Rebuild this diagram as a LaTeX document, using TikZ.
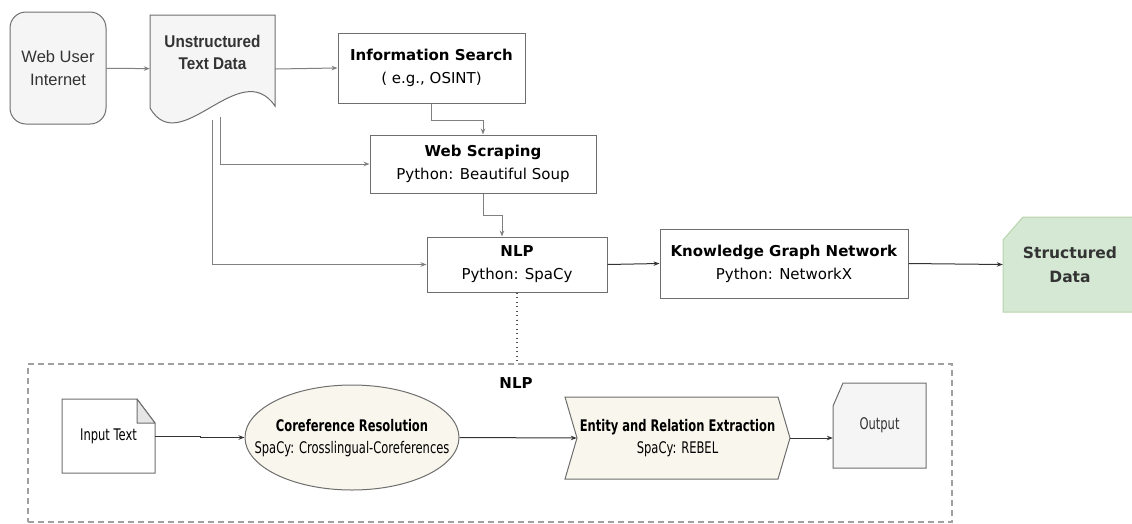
\documentclass[tikz,border=0pt]{standalone}
\usepackage{fontspec}
\setmainfont{DejaVu Sans}
\newfontfamily\helv{Liberation Sans}
\newfontfamily\helvnarrow[FakeStretch=0.9]{Liberation Sans}
\newfontfamily\tahcond[FakeStretch=0.72]{DejaVu Sans}
\usetikzlibrary{arrows.meta,shapes.geometric,calc}
\definecolor{bordergray}{HTML}{6E6E6E}
\definecolor{linegray}{HTML}{808080}
\definecolor{palegray}{HTML}{F5F5F5}
\definecolor{foldgray}{HTML}{E6E6E6}
\definecolor{beige}{HTML}{F9F7ED}
\definecolor{mint}{HTML}{D5E8D4}
\definecolor{mintline}{HTML}{B7D4AC}
\definecolor{ink}{HTML}{333333}
\definecolor{framegray}{HTML}{A0A0A0}

\begin{document}
\begin{tikzpicture}[x=1pt,y=-1pt,
  procbox/.style={draw=bordergray, line width=1pt, fill=white, align=center,
    inner sep=0pt, font=\fontsize{15}{23}\selectfont},
  shapeline/.style={draw=bordergray, line width=1pt},
  lbl/.style={align=center, inner sep=0pt},
  flow/.style={draw=linegray, line width=1pt, -{Stealth[length=6pt,width=4.5pt]}},
  darkflow/.style={draw=ink, line width=1pt, -{Stealth[length=6pt,width=4.5pt]}},
  subtitle/.style={font=\tahcond\fontsize{16}{22}\selectfont}
]
\clip (0,0) rectangle (1132,523);

% ---------- upper pipeline ----------
\node[procbox, rounded corners=16pt, fill=palegray, minimum width=96pt,
  minimum height=112pt, text=ink, font=\helv\fontsize{16.5}{23}\selectfont]
  (web) at (58,68) {Web User\\Internet};

% document shape with wavy bottom
\draw[shapeline, fill=palegray] (150,15) -- (275,15) -- (275,106)
  .. controls (240,55) and (180,160) .. (150,108) -- cycle;
\node[lbl, minimum width=125pt, minimum height=108pt] (raw) at (212.5,69) {};
\node[lbl, text=ink, font=\helvnarrow\bfseries\fontsize{17}{22}\selectfont]
  at (212.5,52) {Unstructured\\Text Data};

\node[procbox, minimum width=187pt, minimum height=70pt] (search) at (431.5,68)
  {\textbf{Information Search}\\( e.g., OSINT)};
\node[procbox, minimum width=226pt, minimum height=58pt] (scrape) at (483,164)
  {\textbf{Web Scraping}\\Python: Beautiful Soup};
\node[procbox, minimum width=180pt, minimum height=55pt] (nlp) at (517,264.5)
  {\textbf{NLP}\\Python: SpaCy};
\node[procbox, minimum width=248pt, minimum height=69pt] (kg) at (784,263.5)
  {\textbf{Knowledge Graph Network}\\Python: NetworkX};

% card shape for the result
\draw[draw=mintline, line width=1pt, fill=mint] (1003,240) -- (1023,217)
  -- (1140,217) -- (1140,312) -- (1003,312) -- cycle;
\node[lbl, minimum width=137pt, minimum height=95pt] (out) at (1071.5,264.5) {};
\node[lbl, text=ink, font=\bfseries\fontsize{15.5}{24}\selectfont]
  at (1070,265) {Structured\\Data};

% branch points below the document
\coordinate (rawA) at (212,120);
\coordinate (rawB) at (220,117);

\draw[flow] (web) -- (raw);
\draw[flow] (raw.east) -- (search.west);
\draw[flow] (search.south) -- ++(0,17) -| ([xshift=51.5pt]search.south |- scrape.north);
\draw[flow] (rawB) |- (scrape.west);
\draw[flow] (rawA) |- (nlp.west);
\draw[flow] (scrape.south) -- ++(0,22) -| ([xshift=-15pt]nlp.north);
\draw[darkflow] (nlp.east) -- (kg.west);
\draw[darkflow] (kg.east) -- (out.west);

% ---------- NLP detail ----------
\node[draw=framegray, line width=1.2pt, dash pattern=on 6pt off 4pt,
  minimum width=924pt, minimum height=158pt, inner sep=0pt] (frame) at (490,443) {};
\node[lbl, font=\bfseries\fontsize{15}{18}\selectfont] (ftitle) at (516,383) {NLP};
\draw[draw=ink!85, line width=1.2pt, dash pattern=on 1.2pt off 3.3pt]
  (nlp.south) -- (nlp.south |- frame.north);

% note shape
\draw[shapeline, fill=white] (62,399) -- (137,399) -- (155,423) -- (155,473)
  -- (62,473) -- cycle;
\draw[shapeline, fill=foldgray, line join=round] (137,399) -- (137,423) -- (155,423) -- cycle;
\node[lbl, minimum width=93pt, minimum height=74pt, subtitle] (input) at (108.5,436)
  {Input Text};

\node[ellipse, draw=bordergray, line width=1pt, fill=beige, minimum width=214pt,
  minimum height=105pt, inner sep=0pt] (coref) at (352,437.5) {};
\node[lbl, subtitle] at (352,438)
  {\textbf{Coreference Resolution}\\SpaCy: Crosslingual-Coreferences};

% chevron step
\draw[shapeline, fill=beige] (565,397) -- (778,397) -- (790,438) -- (778,479)
  -- (565,479) -- (577,438) -- cycle;
\node[lbl, minimum width=225pt, minimum height=82pt, subtitle] (ere) at (677.5,438)
  {\textbf{Entity and Relation Extraction}\\SpaCy: REBEL};

% output card
\draw[shapeline, fill=palegray] (833,406) -- (843,383) -- (926,383) -- (926,468)
  -- (833,468) -- cycle;
\node[lbl, minimum width=93pt, minimum height=85pt] (result) at (879.5,425.5) {};
\node[lbl, subtitle, text=ink] at (879.5,425) {Output};

\draw[darkflow] (input.east) -- (200,436) |- (coref.west);
\draw[darkflow] (coref.east) -- ([xshift=12pt]ere.west);
\draw[darkflow] (ere.east) -- (ere.east -| result.west);
\end{tikzpicture}
\end{document}
